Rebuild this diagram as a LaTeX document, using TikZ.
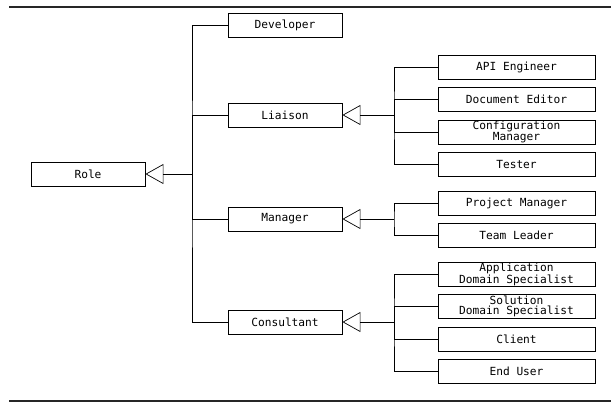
\documentclass[tikz,border=0pt]{standalone}
\usepackage{fontspec}
\newfontfamily\boxfont{DejaVu Sans Mono}
\usetikzlibrary{arrows.meta}
\tikzset{
  rolebox/.style={draw, line width=0.9pt, minimum width=114pt, minimum height=24pt, inner sep=0pt,
    font=\boxfont\fontsize{11.2}{10}\selectfont, align=center},
  childbox/.style={rolebox, minimum width=157pt},
  link/.style={line width=0.9pt},
  gen/.style={line width=0.7pt, -{Triangle[open, length=18pt, width=20pt, line width=0.7pt]}},
  rule/.style={line width=1.8pt, draw=black!85}
}
\begin{document}
\begin{tikzpicture}[x=1pt, y=-1pt]
\useasboundingbox (0,0) rectangle (615,408);
\draw[rule] (9,6.7) coordinate (rl1) -- (610.5,6.7) coordinate (rr1);
\draw[rule] (9,400.7) coordinate (rl2) -- (610.5,400.7) coordinate (rr2);

\node[rolebox] (role) at (88,174) {Role};
\node[rolebox] (developer) at (285,25) {Developer};
\node[rolebox] (liaison) at (285,115) {Liaison};
\node[rolebox] (manager) at (285,219) {Manager};
\node[rolebox] (consultant) at (285,322) {Consultant};

\node[childbox] (api) at (516.5,67) {API Engineer};
\node[childbox] (doc) at (516.5,99.5) {Document Editor};
\node[childbox] (conf) at (516.5,132) {Configuration\\Manager};
\node[childbox] (tester) at (516.5,164.3) {Tester};

\node[childbox] (pm) at (516.5,203.5) {Project Manager};
\node[childbox] (tl) at (516.5,235.5) {Team Leader};

\node[childbox] (ads) at (516.5,274) {Application\\Domain Specialist};
\node[childbox] (sds) at (516.5,306.3) {Solution\\Domain Specialist};
\node[childbox] (client) at (516.5,339) {Client};
\node[childbox] (enduser) at (516.5,371) {End User};

% Role hierarchy
\coordinate (b0) at (192,174);
\draw[link] (developer.west) -| (b0) |- (consultant.west);
\draw[link] (b0) |- (liaison.west);
\draw[link] (b0) |- (manager.west);
\draw[gen] (b0) -- (role.east);

% Liaison
\coordinate (b1) at (394,115);
\draw[link] (api.west) -| (b1) |- (tester.west);
\draw[link] (b1) |- (doc.west);
\draw[link] (b1) |- (conf.west);
\draw[gen] (b1) -- (liaison.east);

% Manager
\coordinate (b2) at (394,219);
\draw[link] (pm.west) -| (b2) |- (tl.west);
\draw[gen] (b2) -- (manager.east);

% Consultant
\coordinate (b3) at (394,322);
\draw[link] (ads.west) -| (b3) |- (enduser.west);
\draw[link] (b3) |- (sds.west);
\draw[link] (b3) |- (client.west);
\draw[gen] (b3) -- (consultant.east);
\end{tikzpicture}
\end{document}
